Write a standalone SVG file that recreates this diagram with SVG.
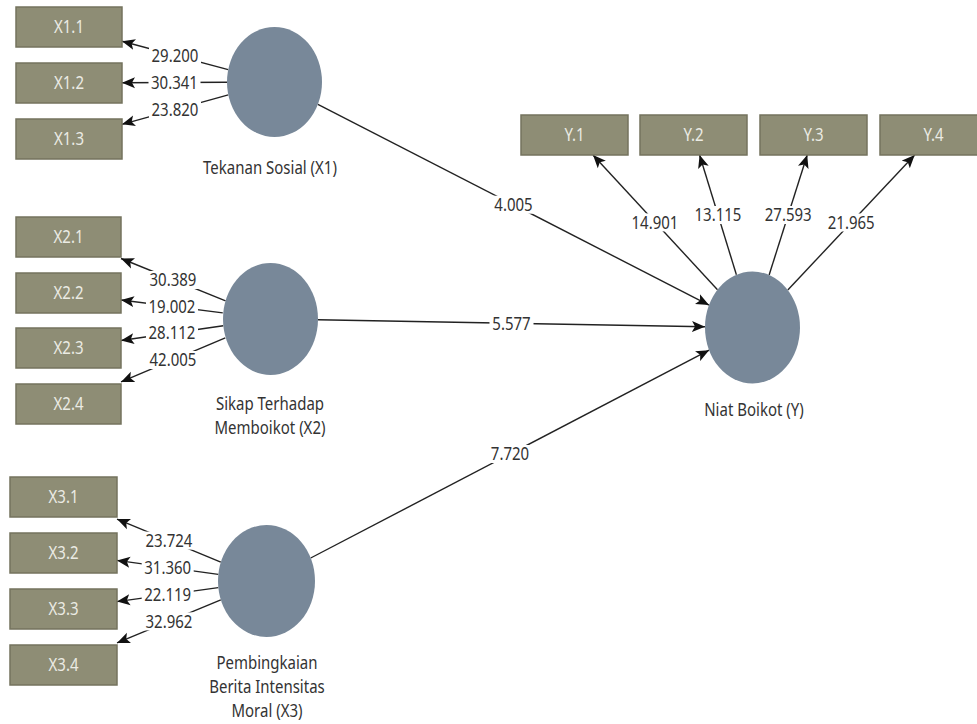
<svg xmlns="http://www.w3.org/2000/svg" width="977" height="724" viewBox="0 0 977 724">
<style>
text{font-family:"Noto Sans","Open Sans","Liberation Sans",sans-serif;transform-box:fill-box;transform-origin:center;transform:scaleY(1.15)}
.box{fill:#8e8d75;stroke:#74735e;stroke-width:1.5}
.bt{font-size:15px;fill:#ebebe4;text-anchor:middle;dominant-baseline:central}
.lv{fill:#788899}
.ln{font-size:15px;fill:#333;text-anchor:middle}
.val{font-size:15px;fill:#333;text-anchor:middle;dominant-baseline:central}
.bg{fill:#fff}
.c{stroke:#222;stroke-width:1.4;fill:none;marker-end:url(#ah)}
</style>
<defs>
<marker id="ah" markerUnits="userSpaceOnUse" markerWidth="14" markerHeight="12" refX="13" refY="6" orient="auto">
<path d="M0,0.5 L13,6 L0,11.5 L3,6 z" fill="#111"/>
</marker>
</defs>
<rect width="977" height="724" fill="#fff"/>
<g id="connectors">
<line class="c" x1="228.2" y1="69.6" x2="122" y2="41.2"/>
<line class="c" x1="227" y1="82.3" x2="122" y2="82.8"/>
<line class="c" x1="228.3" y1="94.8" x2="122" y2="124.3"/>
<line class="c" x1="225.6" y1="300.8" x2="121" y2="258.5"/>
<line class="c" x1="222.8" y1="312.9" x2="121" y2="300"/>
<line class="c" x1="223.3" y1="325.8" x2="121" y2="340.5"/>
<line class="c" x1="225.3" y1="337.8" x2="121" y2="381.9"/>
<line class="c" x1="220.8" y1="562.1" x2="117" y2="519.1"/>
<line class="c" x1="218.3" y1="574.4" x2="117" y2="560.4"/>
<line class="c" x1="218.3" y1="587.6" x2="117" y2="601.6"/>
<line class="c" x1="220.8" y1="599.9" x2="117" y2="642.9"/>
<line class="c" x1="717.5" y1="289.7" x2="593" y2="155"/>
<line class="c" x1="736.4" y1="274.8" x2="699.6" y2="155"/>
<line class="c" x1="769.1" y1="275" x2="807.2" y2="155"/>
<line class="c" x1="787.8" y1="290" x2="914.7" y2="155"/>
<line class="c" x1="317.9" y1="104.3" x2="709" y2="305.1"/>
<line class="c" x1="318" y1="319.8" x2="705" y2="326.7"/>
<line class="c" x1="310.7" y1="558" x2="709.1" y2="350.2"/>
<rect class="bg" x="149" y="46.4" width="52" height="18"/><text class="val" x="175" y="55.4">29.200</text>
<rect class="bg" x="148.5" y="73.5" width="52" height="18"/><text class="val" x="174.5" y="82.5">30.341</text>
<rect class="bg" x="149" y="100.5" width="52" height="18"/><text class="val" x="175" y="109.5">23.820</text>
<rect class="bg" x="147" y="271" width="52" height="18"/><text class="val" x="173" y="280">30.389</text>
<rect class="bg" x="146" y="297.5" width="52" height="18"/><text class="val" x="172" y="306.5">19.002</text>
<rect class="bg" x="146" y="324" width="52" height="18"/><text class="val" x="172" y="333">28.112</text>
<rect class="bg" x="147" y="351" width="52" height="18"/><text class="val" x="173" y="360">42.005</text>
<rect class="bg" x="143" y="531.6" width="52" height="18"/><text class="val" x="169" y="540.6">23.724</text>
<rect class="bg" x="141.7" y="558.4" width="52" height="18"/><text class="val" x="167.7" y="567.4">31.360</text>
<rect class="bg" x="141.7" y="585.6" width="52" height="18"/><text class="val" x="167.7" y="594.6">22.119</text>
<rect class="bg" x="143" y="612.4" width="52" height="18"/><text class="val" x="169" y="621.4">32.962</text>
<rect class="bg" x="629" y="213.4" width="52" height="18"/><text class="val" x="655" y="222.4">14.901</text>
<rect class="bg" x="692" y="206" width="52" height="18"/><text class="val" x="718" y="215">13.115</text>
<rect class="bg" x="762.2" y="206" width="52" height="18"/><text class="val" x="788.2" y="215">27.593</text>
<rect class="bg" x="825.2" y="213.5" width="52" height="18"/><text class="val" x="851.2" y="222.5">21.965</text>
<rect class="bg" x="491.5" y="195.7" width="44" height="18"/><text class="val" x="513.5" y="204.7">4.005</text>
<rect class="bg" x="489.5" y="314.2" width="44" height="18"/><text class="val" x="511.5" y="323.2">5.577</text>
<rect class="bg" x="488" y="445" width="44" height="18"/><text class="val" x="510" y="454">7.720</text>
</g>
<g id="X1.1"><rect class="box" x="16" y="7" width="106" height="40"/><text class="bt" x="69" y="27">X1.1</text></g>
<g id="X1.2"><rect class="box" x="16" y="63" width="106" height="40"/><text class="bt" x="69" y="83">X1.2</text></g>
<g id="X1.3"><rect class="box" x="16" y="119" width="106" height="40"/><text class="bt" x="69" y="139">X1.3</text></g>
<g id="X2.1"><rect class="box" x="16" y="217" width="105" height="40"/><text class="bt" x="68.5" y="237">X2.1</text></g>
<g id="X2.2"><rect class="box" x="16" y="273" width="105" height="40"/><text class="bt" x="68.5" y="293">X2.2</text></g>
<g id="X2.3"><rect class="box" x="16" y="328" width="105" height="40"/><text class="bt" x="68.5" y="348">X2.3</text></g>
<g id="X2.4"><rect class="box" x="16" y="384" width="105" height="40"/><text class="bt" x="68.5" y="404">X2.4</text></g>
<g id="X3.1"><rect class="box" x="10" y="477" width="107" height="40"/><text class="bt" x="63.5" y="497">X3.1</text></g>
<g id="X3.2"><rect class="box" x="10" y="533" width="107" height="40"/><text class="bt" x="63.5" y="553">X3.2</text></g>
<g id="X3.3"><rect class="box" x="10" y="589" width="107" height="40"/><text class="bt" x="63.5" y="609">X3.3</text></g>
<g id="X3.4"><rect class="box" x="10" y="645" width="107" height="40"/><text class="bt" x="63.5" y="665">X3.4</text></g>
<g id="Y.1"><rect class="box" x="521" y="115" width="107" height="40"/><text class="bt" x="574.5" y="135">Y.1</text></g>
<g id="Y.2"><rect class="box" x="640" y="115" width="107" height="40"/><text class="bt" x="693.5" y="135">Y.2</text></g>
<g id="Y.3"><rect class="box" x="760" y="115" width="107" height="40"/><text class="bt" x="813.5" y="135">Y.3</text></g>
<g id="Y.4"><rect class="box" x="880" y="115" width="107" height="40"/><text class="bt" x="933.5" y="135">Y.4</text></g>
<g id="X1"><ellipse class="lv" cx="274.5" cy="82" rx="47.5" ry="55"/><text class="ln" x="270" y="173">Tekanan Sosial (X1)</text></g>
<g id="X2"><ellipse class="lv" cx="270.5" cy="319" rx="47.5" ry="56"/><text class="ln" x="270" y="409">Sikap Terhadap</text><text class="ln" x="270" y="433">Memboikot (X2)</text></g>
<g id="X3"><ellipse class="lv" cx="266.5" cy="581" rx="48.5" ry="56"/><text class="ln" x="267" y="668">Pembingkaian</text><text class="ln" x="267" y="692">Berita Intensitas</text><text class="ln" x="267" y="716">Moral (X3)</text></g>
<g id="Y"><ellipse class="lv" cx="752.5" cy="327.5" rx="47.5" ry="56"/><text class="ln" x="754" y="415">Niat Boikot (Y)</text></g>
</svg>
